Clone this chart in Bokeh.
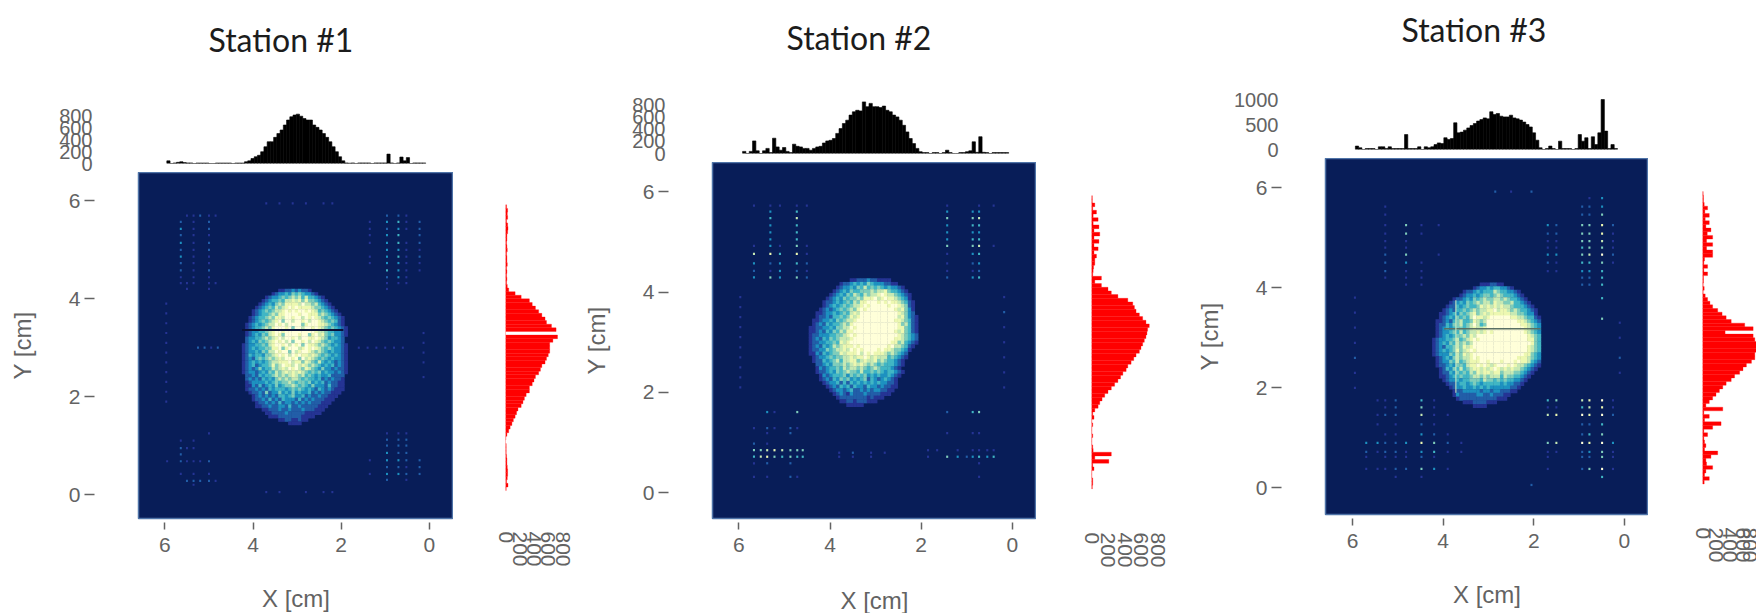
import math
from bokeh.embed import file_html
from bokeh.resources import INLINE
from bokeh.plotting import figure
from bokeh.layouts import row, column
from bokeh.models import Range1d, FixedTicker, ColumnDataSource, Title
from bokeh.palettes import YlGnBu9
from bokeh.transform import linear_cmap

TITLES = ["Station #1", "Station #2", "Station #3"]
X_TICKS = [6, 4, 2, 0]
Y_TICKS = [6, 4, 2, 0]
SIDE_TICKS = [0, 200, 400, 600, 800]
TOP_TICKS_1 = [0, 200, 400, 600, 800]
TOP_TICKS_2 = [0, 200, 400, 600, 800]
TOP_TICKS_3 = [0, 500, 1000]

TOP_1 = [45,0,10,20,30,15,10,10,0,8,8,8,8,0,0,8,8,8,8,8,0,8,8,8,
         30,45,85,115,140,200,285,370,370,445,510,570,655,740,795,825,840,805,765,740,740,655,615,570,510,445,370,285,200,115,45,10,
         5,10,0,10,10,10,10,0,10,10,10,10,160,10,0,10,110,45,100,0,10,10,10,10]
TOP_2 = [35,0,35,210,45,0,45,85,15,255,110,55,100,35,15,155,120,110,85,85,55,85,110,120,175,210,220,250,335,415,500,555,640,695,720,710,860,780,835,780,
         780,765,790,720,695,640,610,555,470,360,250,165,85,30,15,15,0,15,15,0,15,55,15,0,0,15,15,30,45,195,20,280,20,15,0,15,15,15,15,15]
TOP_3 = [70,35,0,20,20,20,0,55,55,20,55,20,20,20,20,305,20,20,20,55,0,55,35,55,100,135,120,240,205,225,545,340,355,395,440,490,530,580,610,645,
         625,770,715,735,680,665,665,700,645,625,600,560,510,460,340,190,35,0,20,70,20,0,170,20,20,20,0,20,305,170,240,20,260,100,340,1020,375,20,100,20]

SIDE_1 = [15,30,25,30,15,30,35,30,20,20,15,20,25,15,20,20,25,15,20,15,20,15,25,
          45,135,220,335,375,420,465,510,555,575,645,710,0,730,665,620,620,620,600,575,555,510,490,465,420,400,375,335,335,290,265,245,220,175,155,135,110,90,65,45,20,
          5,0,10,10,10,15,20,20,25,30,30,25,15,35,10]
SIDE_2 = [10,10,40,15,60,20,80,20,90,30,100,30,90,30,80,30,60,40,40,25,20,15,120,
          40,120,200,240,320,440,500,520,540,580,620,660,700,680,672,660,640,620,600,580,540,512,480,440,420,380,352,320,280,240,200,160,128,100,80,40,
          15,30,5,15,5,5,15,5,5,15,20,240,40,210,15,30,5,5,15,15,10]
SIDE_3 = [10,15,15,25,75,35,100,40,100,50,125,70,150,60,150,60,150,150,30,20,75,20,75,15,15,10,25,10,
          40,75,110,150,225,290,350,425,625,750,335,750,775,800,800,800,775,775,725,650,600,550,475,425,350,300,250,200,150,100,
          50,300,20,100,30,275,150,20,75,20,30,50,30,225,125,50,60,150,50,30,100,25]

BLOB_1 = [
"00000000000112232322100000000000",
"00000000012334354543321000000000",
"00000001233454565646443210000000",
"00000012344546676757554321000000",
"00000123435657777686656432100000",
"00001234546567878777765543210000",
"00012345456678787887876454321000",
"00012344565778888788777565432100",
"00123445657768878868787654543210",
"00123454567858868878688765454210",
"01234345668786888857888776543210",
"01234456578887858868878765454321",
"01233445678878888888887665443321",
"01234354678758888788578675453321",
"02334456567868878688778765344320",
"02343545678786858878687654543320",
"12334454678878687858776565434321",
"12343445577857888678787654543321",
"12334354668788586788765654343321",
"12434435567878687877676545434321",
"12324545656768878586765454343321",
"12343434566777867757654643432321",
"12342344575687768676565434342321",
"12323534465676878657654353323221",
"12332343546567676765454534332321",
"02232434456565676564543433422220",
"02323243435656566545443423232210",
"01233334345455654554534342322110",
"01132423435345565454353332422110",
"01223232434443454543432432321110",
"00122325233534353433423232211100",
"00012323232443453342322322111000",
"00012232423243332423232221110000",
"00001223232423323232322211100000",
"00001122322332422322222111000000",
"00000011222322322232221110000000",
"00000001122223222221111100000000",
"00000000111222222211110000000000",
"00000000000112211211000000000000",
"00000000000000111100000000000000",
]
BLOB_2 = [
"000000000000011222322111100000000",
"000000000012234343543332211000000",
"000000000123343546454543433210000",
"000000001234354455565667544321000",
"000000012343546546566787665432100",
"000000123435455657778678776543100",
"000001223434546577888787877654210",
"000001234345456678788888788765210",
"000012323454565787888888887675310",
"000112334345467688888888888765320",
"000122324454576788888888888675321",
"001123343545667888888888887765421",
"001232434456578888888888888756421",
"011223343556687888888888888775421",
"011232435465778888888888887675421",
"012233344556787888888888888765432",
"012324354566678888888888887765432",
"012233445476788888888888877564321",
"012324346567778788888888786654210",
"012233545667687878888787765543100",
"011324345576777868787776565432000",
"001233454556676778767666454321000",
"001224345646677567667565443210000",
"000223435556567676565454443210000",
"000132344546566565456544432100000",
"000122343545655464454543443210000",
"000013234445354545343433432100000",
"000012324354534345243234321000000",
"000001233424243434343433221000000",
"000000123243424332433232211000000",
"000000012332342232323322110000000",
"000000001232132223222211100000000",
"000000000122222222121110000000000",
"000000000011221222111000000000000",
"000000000000111110000000000000000",
]
BLOB_3 = [
"00000000000000111221100000000000",
"00000000000012334344332100000000",
"00000000012234344465443321000000",
"00000000123343455456544432100000",
"00000012234354565566565443210000",
"00000123435456566576655644321000",
"00001224345445767676766544432100",
"00012324454565667786776565443210",
"00112343545675676777777665543310",
"00123435454687767888888776654421",
"01123245644576568888888887765432",
"01224355645686458888888888776543",
"01234345545676678888888888876543",
"01233454645667678788888888876543",
"01234345565768888888888888887654",
"12334456456787888888888888887754",
"12343546565688888888888888888754",
"12324456576788888888888888887654",
"12343457567878888888888888887654",
"12333546576788888888888888877543",
"01234356566787888888888887776543",
"01233546456777887888788878776432",
"01223435546778787678887876654321",
"00124354645677676787676766543210",
"00122435454657677677566655432100",
"00112344544566565666465544321000",
"00012334344555465545454433210000",
"00001223443454344444343322100000",
"00000123343343434333333221000000",
"00000012233333233233222110000000",
"00000013222223322322211000000000",
"00000001222222222221110000000000",
"00000000011122221110000000000000",
"00000000000011110000000000000000",
]

SPOTS_1 = [
 ([5.95,5.8,5.64,5.5,5.35,5.2,5.0,4.85,4.7], [5.7,5.57,5.43,5.3,5.14,5.0,4.86,4.73,4.58,4.44,4.32,4.2],
  ["000112110","002010200","003010200","002010100","003010200","002010200","003010100","002010100","002010200","001010100","001110110","000100100"]),
 ([1.35,1.2,.96,.82,.7,.52,.36,.22], [5.7,5.57,5.43,5.3,5.14,5.0,4.86,4.73,4.58,4.44,4.32,4.2],
  ["00202100","10304102","10203102","10304002","10304102","00303101","10304102","10303101","00403101","00203100","00101100","00100000"]),
 ([5.95,5.8,5.64,5.5,5.35,5.2,5.0,4.85,4.7], [1.25,1.1,.95,.82,.68,.55,.42,.28,.2],
  ["000000100","001010000","002110000","002000000","102111200","000000000","001010100","000222210","000010000"]),
 ([1.35,1.2,.96,.82,.7,.52,.36,.22], [1.25,1.12,1.0,.85,.7,.56,.42,.3],
  ["00101100","00202200","00202200","00302200","10303202","00202102","10303202","00200100"]),
 ([5.97], [3.9,3.7,3.5,3.3,3.1,2.9,2.7,2.5,2.3,2.1,1.9], ["1","1","1","1","1","1","1","1","1","1","1"]),
 ([.13], [3.3,3.1,2.9,2.7,2.4], ["1","1","1","1","1"]),
 ([5.25,5.1,4.95,4.8,1.6,1.4,1.2,1.0,.8,.6], [3.0], ["2212111111"]),
 ([3.7,3.4,3.1,2.8,2.4,2.2], [5.95,.05], ["111111","110111"]),
]
SPOTS_2 = [
 ([5.67,5.31,5.1,4.73,4.51], [5.72,5.6,5.47,5.33,5.19,5.05,4.92,4.76,4.57,4.42,4.29],
  ["11111","03040","04060","03040","03040","03040","13151","67471","32342","21321","35352"]),
 ([1.43,.87,.73,.41], [5.72,5.6,5.47,5.33,5.19,5.05,4.92,4.76,4.57,4.42,4.29],
  ["1011","3330","5560","3440","3330","3440","5561","1340","1230","1120","2340"]),
 ([5.67,5.52,5.38,5.22,5.05,4.87,4.72,4.6], [1.61,1.29,1.19,.98,.85,.72,.59,.32],
  ["00310050","10210210","00100200","20100000","55676555","46754544","10200200","10100210"]),
 ([1.85,1.65,1.43,1.2,1.0,.87,.73,.55,.41], [1.61,1.19,.85,.72,.59,.32],
  ["002004500","001001100","110101111","105323434","000000100","000000100"]),
 ([5.97], [3.9,3.7,3.5,3.3,3.1,2.9,2.7,2.5,2.3,2.1], ["1","1","1","1","1","1","1","1","1","1"]),
 ([.18], [3.9,3.6,3.3,3.0,2.7,2.4,2.1], ["1","2","1","1","1","1","1"]),
 ([3.8,3.5,3.1,2.8], [.8,.72], ["1211","1110"]),
]
SPOTS_3 = [
 ([1.69,1.5,.93,.77,.49,.25], [5.79,5.62,5.46,5.25,5.08,4.93,4.8,4.66,4.5,4.33,4.2,4.06,3.79,3.38],
  ["000130","002230","002250","325572","225571","115561","114551","335682","214451","113340","002240","002240","000040","000050"]),
 ([5.28,4.82,4.48,4.1], [5.62,5.46,5.25,5.08,4.93,4.8,4.66,4.5,4.33,4.2,4.06],
  ["1000","1000","1511","1510","1100","1100","2501","2310","2110","1110","0110"]),
 ([1.69,1.5,.93,.77,.49,.25], [1.75,1.61,1.46,1.27,1.07,.9,.72,.62,.38,.22],
  ["456781","114671","678782","002240","002450","568783","112351","102251","102581","000040"]),
 ([5.7,5.45,5.28,5.05,4.82,4.48,4.2,3.9,3.6], [1.75,1.61,1.46,1.27,1.07,.9,.72,.62,.38,.22],
  ["011204100","001205100","012206110","010102100","001103210","332237521","212213411","101112100","111225310","000101000"]),
 ([5.95], [3.8,3.5,3.2,2.9,2.6,2.3,2.0], ["1","1","1","1","2","1","1"]),
 ([.1], [3.3,3.0,2.6,2.3], ["1","1","2","1"]),
 ([2.85,2.5,2.05], [5.92,.06], ["212","002"]),
]

LINES_1 = [([4.25, 1.95], [3.36, 3.36], "#0a1238", 2)]
LINES_3 = [([3.98, 1.85], [3.18, 3.18], "#5a7064", 1.5), ([3.72, 3.72], [3.75, 1.9], "#d6ecc0", 1)]

GREY = "#636363"
FONT = "Liberation Sans"
NAVY = YlGnBu9[0]
BOTTOM = 613
SLIDE = 6      # the top histogram's canvas slides down over the heatmap's edge, so its "0" label has room


def cells(p, xs, ys, vals, w, h):
    src = ColumnDataSource(dict(x=xs, y=ys, v=vals))
    p.rect("x", "y", width=w, height=h, source=src, line_color=None,
           fill_color=linear_cmap("v", YlGnBu9, -0.5, 8.5))


def panel(title, title_left, title_cy, left, right, fl, fr, ft, fb, xr, yr,
          top_vals, top_ticks, top_ext, top_span, top_first, top_last, baseline, top_frame,
          side_vals, side_first, side_last, side_base, side_end, side_standoff,
          blob, bx, by, bw, bh, spots, yl_std, xl_std, lines=()):
    x_range = Range1d(*xr)
    y_range = Range1d(*yr)
    head_h = 2 * title_cy

    head = figure(width=right - left, height=head_h + 1, output_backend="svg", toolbar_location=None,
                  x_range=Range1d(0, 1), y_range=Range1d(0, 1), x_axis_location=None, y_axis_location=None,
                  frame_width=fr - fl, frame_height=1,
                  min_border_left=fl - left, min_border_right=right - fr,
                  min_border_top=head_h, min_border_bottom=0,
                  outline_line_color=None, background_fill_color="white", border_fill_color="white")
    head.grid.visible = False
    head.title = Title(text=title, align="left", offset=title_left - fl, standoff=0,
                       text_font="Lato", text_font_size="32px", text_font_style="normal",
                       text_color="#1c1c1c")

    top_h = ft - head_h - 1
    top = figure(width=right - left, height=top_h, output_backend="svg", toolbar_location=None,
                 x_range=x_range, y_range=Range1d(0, top_ext), x_axis_location=None,
                 frame_width=fr - fl, frame_height=baseline - top_frame,
                 min_border_left=fl - left, min_border_right=right - fr,
                 min_border_top=top_frame - head_h - 1 - SLIDE, min_border_bottom=ft + SLIDE - baseline,
                 outline_line_color=None, background_fill_color="white", border_fill_alpha=0,
                 styles={"transform": f"translateY({SLIDE}px)", "pointer-events": "none"})
    top.grid.visible = False
    n = len(top_vals)
    step = (top_first - top_last) / n
    top.quad(left=[top_first - i * step for i in range(n)],
             right=[top_first - (i + 1) * step for i in range(n)],
             bottom=0, top=top_vals, fill_color="black", line_color="black", line_width=0.6)
    ya = top.yaxis[0]
    ya.ticker = FixedTicker(ticks=top_ticks)
    ya.axis_line_color = None
    ya.major_tick_line_color = None
    ya.minor_tick_line_color = None
    ya.major_tick_in = 0
    ya.major_tick_out = 0
    ya.major_label_standoff = top_span
    ya.major_label_text_font = FONT
    ya.major_label_text_font_size = "20px"
    ya.major_label_text_color = GREY

    heat = figure(width=fr - left, height=BOTTOM - ft, output_backend="svg", toolbar_location=None,
                  x_range=x_range, y_range=y_range,
                  frame_width=fr - fl, frame_height=fb - ft,
                  min_border_left=fl - left, min_border_right=0, min_border_top=0, min_border_bottom=BOTTOM - fb,
                  background_fill_color=NAVY, border_fill_color="white",
                  outline_line_color="#4f74a8", outline_line_width=1.5)
    heat.grid.visible = False
    xs, ys, vs = [], [], []
    for r, text in enumerate(blob):
        for c, ch in enumerate(text):
            if ch != "0":
                xs.append(bx - (c + .5) * bw)
                ys.append(by - (r + .5) * bh)
                vs.append(int(ch))
    cells(heat, xs, ys, vs, bw * 1.12, bh * 1.12)
    xs, ys, vs = [], [], []
    for sx, sy, rows in spots:
        for j, text in enumerate(rows):
            for i, ch in enumerate(text):
                if ch != "0":
                    xs.append(sx[i]); ys.append(sy[j]); vs.append(int(ch))
    cells(heat, xs, ys, vs, 0.045, 0.045)
    for lx, ly, lc, lw in lines:
        heat.line(lx, ly, line_color=lc, line_width=lw)
    xa = heat.xaxis[0]
    xa.ticker = FixedTicker(ticks=X_TICKS)
    xa.axis_line_color = None
    xa.major_tick_in = -4
    xa.major_tick_out = 11
    xa.major_tick_line_color = GREY
    xa.major_tick_line_width = 1.5
    xa.minor_tick_line_color = None
    xa.major_label_standoff = 8
    xa.major_label_text_font = FONT
    xa.major_label_text_font_size = "21px"
    xa.major_label_text_color = GREY
    xa.axis_label = "X [cm]"
    xa.axis_label_text_font = FONT
    xa.axis_label_text_font_style = "normal"
    xa.axis_label_text_font_size = "24px"
    xa.axis_label_text_color = GREY
    xa.axis_label_standoff = xl_std
    ya = heat.yaxis[0]
    ya.ticker = FixedTicker(ticks=Y_TICKS)
    ya.axis_line_color = None
    ya.major_tick_in = -44
    ya.major_tick_out = 54
    ya.major_tick_line_color = GREY
    ya.major_tick_line_width = 1.5
    ya.minor_tick_line_color = None
    ya.major_label_standoff = 4
    ya.major_label_text_font = FONT
    ya.major_label_text_font_size = "21px"
    ya.major_label_text_color = GREY
    ya.axis_label = "Y [cm]"
    ya.axis_label_text_font = FONT
    ya.axis_label_text_font_style = "normal"
    ya.axis_label_text_font_size = "24px"
    ya.axis_label_text_color = GREY
    ya.axis_label_standoff = yl_std

    side = figure(width=right - fr, height=BOTTOM - ft, output_backend="svg", toolbar_location=None,
                  x_range=Range1d(0, 800), y_range=y_range, y_axis_location=None,
                  frame_width=side_end - side_base, frame_height=fb - ft,
                  min_border_left=side_base - fr, min_border_right=right - side_end,
                  min_border_top=0, min_border_bottom=BOTTOM - fb,
                  outline_line_color=None, border_fill_color="white", background_fill_color="white")
    side.grid.visible = False
    n = len(side_vals)
    step = (side_first - side_last) / n
    side.quad(left=0, right=side_vals,
              top=[side_first - i * step for i in range(n)],
              bottom=[side_first - (i + 1) * step for i in range(n)],
              fill_color="#ff0000", line_color="#ff0000", line_width=0.3)
    sa = side.xaxis[0]
    sa.ticker = FixedTicker(ticks=SIDE_TICKS)
    sa.axis_line_color = None
    sa.major_tick_line_color = None
    sa.minor_tick_line_color = None
    sa.major_tick_in = 0
    sa.major_tick_out = 0
    sa.major_label_orientation = -math.pi / 2
    sa.major_label_standoff = side_standoff
    sa.major_label_text_font = FONT
    sa.major_label_text_font_size = "21px"
    sa.major_label_text_color = GREY

    return column(head, top, row(heat, side, spacing=0), spacing=0)


p1 = panel(TITLES[0], 208, 29, 0, 578, 138, 453, 172, 518, (6.6, -0.55), (-0.49, 6.58),
           TOP_1, TOP_TICKS_1, 936, 46, 5.957, 0.08, 163, 108,
           SIDE_1, 5.92, 0.08, 505, 562, 13,
           BLOB_1, 4.25, 4.2, 0.075, 0.0695, SPOTS_1, 30, 30, lines=LINES_1)
p2 = panel(TITLES[1], 786, 28, 578, 1175, 712, 1036, 162, 518, (6.58, -0.53), (-0.51, 6.58),
           TOP_2, TOP_TICKS_2, 883, 47, 5.92, 0.08, 153, 100,
           SIDE_2, 5.92, 0.08, 1091, 1157, 14,
           BLOB_2, 4.54, 4.27, 0.075, 0.073, SPOTS_2, 30, 32)
p3 = panel(TITLES[2], 1401, 24, 1175, 1756, 1325, 1648, 158, 514, (6.6, -0.535), (-0.53, 6.58),
           TOP_3, TOP_TICKS_3, 1061, 47, 5.94, 0.15, 149, 97,
           SIDE_3, 5.92, 0.08, 1702, 1756, 13,
           BLOB_3, 4.24, 4.1, 0.075, 0.0735, SPOTS_3, 30, 30, lines=LINES_3)

layout = row(p1, p2, p3, spacing=0)
open("out.html", "w").write(file_html(layout, INLINE))
